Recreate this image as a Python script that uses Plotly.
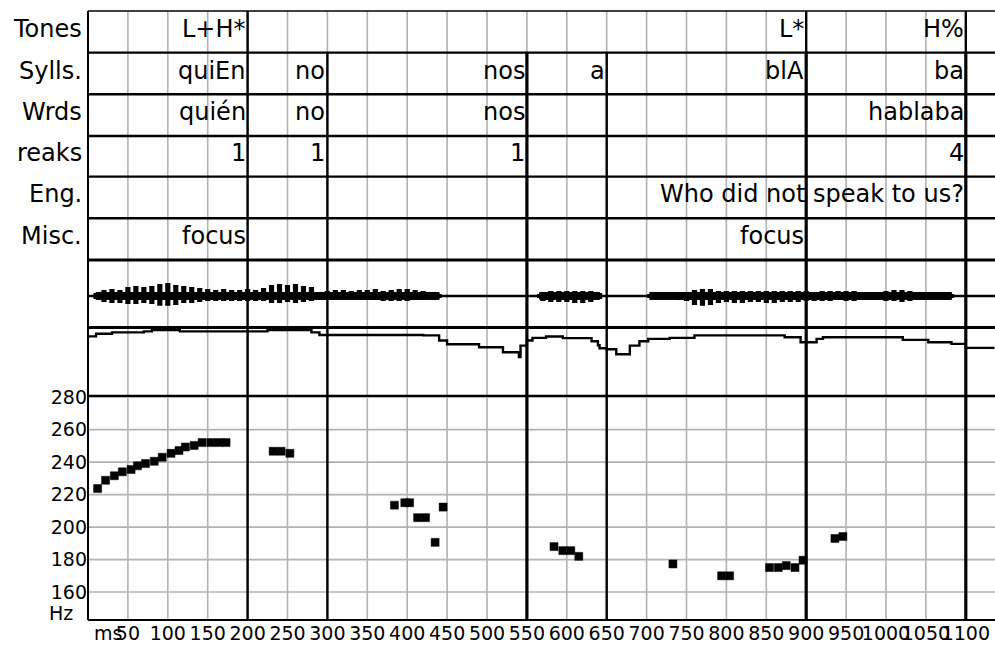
import plotly.graph_objects as go

# ---------------- data ----------------
# F0 track (ms, Hz)
pitch_ms = [12, 22, 33, 43, 54, 62, 72, 83, 93, 104, 114, 122, 133, 143, 154, 164, 173,
            232, 242, 253,
            384, 397, 403, 413, 423, 435, 445,
            584, 595, 605, 615,
            733, 794, 804, 854, 865, 875, 886, 896, 936, 946]
pitch_hz = [223.7, 228.8, 231.6, 234.0, 235.5, 237.7, 239.1, 240.5, 243.0, 245.4, 247.1, 249.3, 250.3, 252.0, 252.0, 252.0, 252.0,
            246.7, 246.7, 245.4,
            213.5, 215.0, 215.0, 205.8, 205.8, 190.6, 212.3,
            188.0, 185.5, 185.5, 182.0,
            177.3, 170.0, 170.0, 175.1, 175.1, 176.3, 175.1, 179.6, 193.0, 194.2]

# intensity contour (ms, dB)
int_ms = [0, 10, 30, 70, 80, 115, 225, 280, 290, 420, 440, 450, 490, 520, 540, 542, 550, 557,
          574, 595, 631, 639, 641, 650, 662, 679, 691, 702, 729, 760, 873, 893, 913, 921,
          1021, 1053, 1082, 1100, 1136]
int_db = [75.5, 76.8, 77.5, 78.0, 78.7, 78.0, 78.7, 77.5, 76.2, 76.0, 73.4, 71.5, 70.0, 67.5, 65.0, 70.8, 73.4, 74.7,
          75.4, 74.6, 73.0, 71.0, 69.5, 69.0, 66.5, 70.8, 73.0, 74.2, 74.7, 76.0, 75.0, 72.5, 74.2, 75.0,
          73.7, 72.5, 71.7, 69.7, 69.7]

# waveform peaks per voiced stretch: time (ms), positive peak, negative peak
wave_segments = [
    ([10, 20, 30, 40, 50, 60, 70, 80, 90, 100, 110, 120, 130, 140, 150, 160, 170, 180, 190, 200, 210, 220,
      230, 240, 250, 260, 270, 280, 290, 300, 310, 320, 330, 340, 350, 360, 370, 380, 390, 400, 410, 420, 430, 440],
     [3, 6, 7, 6, 9, 10, 9, 10, 12, 13, 11, 10, 9, 8, 7, 6, 7, 6, 6, 7, 6, 8,
      11, 12, 11, 12, 10, 9, 4, 5, 6, 6, 5, 6, 6, 7, 5, 6, 7, 7, 6, 5, 3, 2],
     [3, 6, 7, 7, 8, 8, 7, 8, 10, 10, 9, 7, 7, 6, 5, 5, 5, 5, 5, 5, 5, 5,
      7, 7, 6, 7, 6, 5, 4, 2, 2, 2, 2, 3, 3, 4, 5, 5, 5, 5, 4, 3, 2, 2]),
    ([566, 570, 580, 590, 600, 610, 620, 630, 641],
     [2, 4, 5, 5, 5, 5, 5, 5, 3],
     [2, 5, 6, 6, 6, 7, 7, 6, 3]),
    ([704, 710, 720, 730, 740, 750, 760, 770, 780, 790, 800, 810, 820, 830, 840, 850, 860, 870, 880, 890,
      900, 910, 920, 930, 940, 950, 960, 970, 980, 990, 1000, 1010, 1020, 1030, 1040, 1050, 1060, 1070, 1082],
     [2, 2, 2, 3, 3, 4, 6, 7, 7, 5, 5, 5, 5, 5, 5, 5, 5, 5, 5, 5,
      5, 4, 5, 5, 5, 5, 5, 4, 4, 4, 5, 6, 6, 5, 3, 3, 3, 2, 2],
     [2, 2, 3, 3, 4, 5, 9, 10, 9, 7, 6, 7, 7, 6, 6, 7, 7, 6, 6, 6,
      5, 5, 5, 5, 4, 5, 5, 4, 4, 4, 5, 5, 6, 5, 3, 3, 2, 2, 2]),
]

# annotation tiers: label, boundary times (ms), texts
tier_names = ["Tones", "Sylls.", "Wrds", "reaks", "Eng.", "Misc."]
tones_ms = [200, 900, 1100]
tones_txt = ["L+H*", "L*", "H%"]
sylls_ms = [200, 300, 550, 650, 900, 1100]
sylls_txt = ["quiEn", "no", "nos", "a", "blA", "ba"]
words_ms = [200, 300, 550, 1100]
words_txt = ["quién", "no", "nos", "hablaba"]
breaks_ms = [200, 300, 550, 1100]
breaks_txt = ["1", "1", "1", "4"]
eng_ms = [1100]
eng_txt = ["Who did not speak to us?"]
misc_ms = [200, 900]
misc_txt = ["focus", "focus"]

time_ticks = list(range(50, 1101, 50))
hz_ticks = [160, 180, 200, 220, 240, 260, 280]

# ---------------- layout geometry ----------------
W, H = 995, 648
M_L, M_T, M_B = 88, 5, 28
PLOT_H = H - M_T - M_B
FONT = "DejaVu Sans"
CORE = 3.5  # half-thickness of the dense waveform core


def py(ypx):
    """pixel row -> paper fraction"""
    return (H - M_B - ypx) / PLOT_H


row_edges = [6, 48, 90, 132, 173, 215, 257]
WAVE_TOP, INT_TOP, PITCH_TOP, BOTTOM = 257, 325, 394, 620

fig = go.Figure()

# pitch points
fig.add_trace(go.Scatter(
    x=pitch_ms, y=pitch_hz, mode="markers", xaxis="x", yaxis="y",
    marker=dict(symbol="square", size=8, color="black", line=dict(width=0.5, color="black")),
    hoverinfo="skip"))

# intensity step contour
fig.add_trace(go.Scatter(
    x=int_ms, y=int_db, mode="lines", xaxis="x", yaxis="y2",
    line=dict(shape="hv", color="black", width=2.4), hoverinfo="skip"))

# waveform: dense core band plus one stroke per peak sample
for t, up, lo in wave_segments:
    xs = [t[0], t[-1], t[-1], t[0], t[0]]
    ys = [CORE, CORE, -CORE, -CORE, CORE]
    fig.add_trace(go.Scatter(
        x=xs, y=ys, mode="lines", fill="toself", fillcolor="black",
        line=dict(color="black", width=1), xaxis="x", yaxis="y3", hoverinfo="skip"))
    sx, sy = [], []
    for ti, u, l in zip(t, up, lo):
        sx += [ti, ti, None]
        sy += [u, -l, None]
    fig.add_trace(go.Scatter(
        x=sx, y=sy, mode="lines", line=dict(color="black", width=5.2),
        xaxis="x", yaxis="y3", hoverinfo="skip"))

shapes = []
GRAY = "#b2b2b2"
# vertical 50 ms grid across all tiers and panels
for t in time_ticks:
    shapes.append(dict(type="line", xref="x", yref="paper", x0=t, x1=t,
                       y0=py(BOTTOM), y1=py(row_edges[0]),
                       line=dict(color=GRAY, width=1.6), layer="below"))
# horizontal F0 grid
for hz in hz_ticks:
    shapes.append(dict(type="line", xref="paper", yref="y", x0=0, x1=1, y0=hz, y1=hz,
                       line=dict(color=GRAY, width=1.6), layer="below"))

# horizontal separators
for ypx, w in [(6, 1.6), (48, 2.4), (90, 2.4), (132, 2.4), (173, 2.4), (215, 2.4),
               (257, 3), (325, 3), (394, 2.4), (620, 2.2)]:
    shapes.append(dict(type="line", xref="paper", yref="paper", x0=0, x1=1,
                       y0=py(ypx), y1=py(ypx), line=dict(color="black", width=w)))
# left border
shapes.append(dict(type="line", xref="paper", yref="paper", x0=0, x1=0,
                   y0=py(BOTTOM), y1=py(6), line=dict(color="black", width=2)))
# waveform zero line
shapes.append(dict(type="line", xref="paper", yref="y3", x0=0, x1=1, y0=0, y1=0,
                   line=dict(color="black", width=2.4)))

# segment boundaries: syllables through every lower tier, tones in the top tier
for t in sylls_ms:
    w = 3.2 if t in (550, 900, 1100) else 2.4
    shapes.append(dict(type="line", xref="x", yref="paper", x0=t, x1=t,
                       y0=py(BOTTOM), y1=py(row_edges[1]),
                       line=dict(color="black", width=w)))
for t in tones_ms:
    shapes.append(dict(type="line", xref="x", yref="paper", x0=t, x1=t,
                       y0=py(row_edges[1]), y1=py(row_edges[0]),
                       line=dict(color="black", width=2.4)))

annotations = []
tiers = [(tones_ms, tones_txt), (sylls_ms, sylls_txt), (words_ms, words_txt),
         (breaks_ms, breaks_txt), (eng_ms, eng_txt), (misc_ms, misc_txt)]
for i, name in enumerate(tier_names):
    yc = py((row_edges[i] + row_edges[i + 1]) / 2 - 3)
    annotations.append(dict(text=name, xref="paper", yref="paper",
                            x=(83 - M_L) / (W - M_L), y=yc, xanchor="right", yanchor="middle",
                            showarrow=False, borderpad=0,
                            font=dict(family=FONT, size=24, color="black")))
    times, texts = tiers[i]
    for t, s in zip(times, texts):
        annotations.append(dict(text=s, xref="x", yref="paper", x=t, y=yc,
                                xanchor="right", yanchor="middle", xshift=-1,
                                showarrow=False, borderpad=0,
                                font=dict(family=FONT, size=24, color="black")))

annotations.append(dict(text="Hz", xref="paper", yref="paper",
                        x=(61 - M_L) / (W - M_L), y=py(613), xanchor="center", yanchor="middle",
                        showarrow=False, font=dict(family=FONT, size=19, color="black")))
annotations.append(dict(text="ms", xref="paper", yref="paper",
                        x=(108 - M_L) / (W - M_L), y=py(633), xanchor="center", yanchor="middle",
                        showarrow=False, font=dict(family=FONT, size=19, color="black")))

x_span = (W - M_L) / 0.798

fig.update_layout(
    width=W, height=H,
    margin=dict(l=M_L, r=0, t=M_T, b=M_B),
    paper_bgcolor="white", plot_bgcolor="rgba(0,0,0,0)",
    showlegend=False,
    xaxis=dict(range=[0, x_span], tickvals=time_ticks, ticktext=[str(v) for v in time_ticks],
               tickangle=0, tickfont=dict(family=FONT, size=19, color="black"),
               showgrid=False, zeroline=False, showline=False, ticks="", anchor="y"),
    yaxis=dict(domain=[0, py(PITCH_TOP)], range=[142.8, 280.8], tickvals=hz_ticks,
               tickfont=dict(family=FONT, size=19, color="black"),
               showgrid=False, zeroline=False, showline=False, ticks="", anchor="x"),
    yaxis2=dict(domain=[py(PITCH_TOP), py(INT_TOP)], range=[45.5, 80],
                visible=False, anchor="x"),
    yaxis3=dict(domain=[py(INT_TOP), py(WAVE_TOP)], range=[-31.7, 36.3],
                visible=False, anchor="x"),
    shapes=shapes,
    annotations=annotations,
)

fig.write_html("out.html")
